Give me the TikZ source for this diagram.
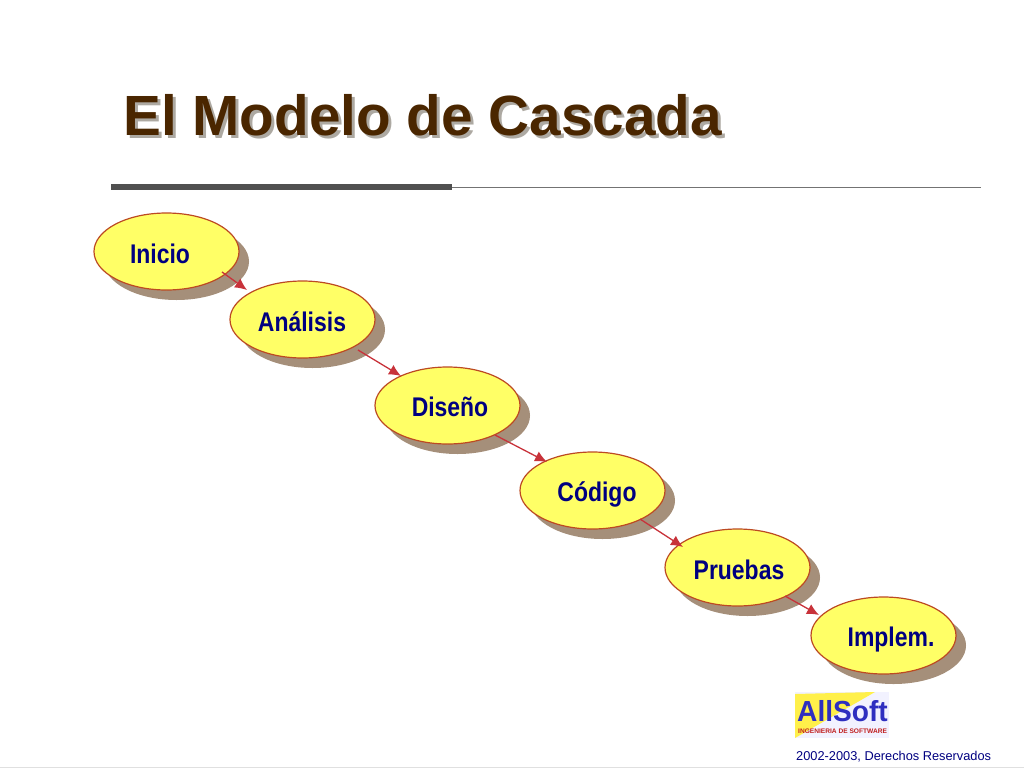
\documentclass[tikz,border=0pt]{standalone}
\usepackage{fontspec}
\setmainfont{Liberation Sans}
\newfontfamily\narrowfont[FakeStretch=0.85]{Liberation Sans}
\newfontfamily\logofont[FakeStretch=0.97]{Liberation Sans}
\usetikzlibrary{shapes.geometric,shadows,arrows.meta,calc}
\definecolor{tituloc}{HTML}{4A2600}
\definecolor{tituloshadow}{HTML}{ADA9A2}
\definecolor{sombra}{HTML}{A58F7A}
\definecolor{relleno}{HTML}{FFFF66}
\definecolor{borde}{HTML}{BC4A22}
\definecolor{flechac}{HTML}{C8323A}
\definecolor{azul}{HTML}{000080}
\definecolor{regla}{HTML}{505050}
\definecolor{logoy}{HTML}{FFF04A}
\definecolor{logob}{HTML}{2F2FC0}
\definecolor{logor}{HTML}{C02020}
\tikzset{
	fase/.style={ellipse,draw=borde,fill=relleno,line width=1.2pt,
		minimum width=145pt,minimum height=77pt,inner sep=0pt,
		drop shadow={shadow xshift=10pt,shadow yshift=-10pt,fill=sombra,opacity=1}},
	etiqueta/.style={text=azul,font=\narrowfont\bfseries\fontsize{27}{27}\selectfont,inner sep=0pt},
	flecha/.style={draw=flechac,line width=1.3pt,-{Latex[length=12pt,width=11pt]}}
}
\begin{document}
\begin{tikzpicture}[x=1pt,y=-1pt]
	\useasboundingbox (0,0) rectangle (1024,768);
	% title and its rule
	\node[anchor=base west,inner sep=0pt,text=tituloshadow,font=\bfseries\fontsize{56.7}{56.7}\selectfont] (tituloS) at (126,138.5) {El Modelo de Cascada};
	\node[anchor=base west,inner sep=0pt,text=tituloc,font=\bfseries\fontsize{56.7}{56.7}\selectfont] (titulo) at (123,135.5) {El Modelo de Cascada};
	\fill[regla] (111,184) rectangle (452,190);
	\draw[regla!80,line width=0.8pt] (452,187) -- (981,187);
	% the six phases
	\foreach \nombre/\x/\y/\dx/\dy/\texto in {
		inicio/166.5/251.5/-6.5/2.5/Inicio,
		analisis/302.5/319.5/-0.5/2.5/Análisis,
		diseno/447.5/405.5/2.5/1.5/Diseño,
		codigo/592.5/490.5/4.5/4/Código,
		pruebas/737.5/567.5/1.5/2/Pruebas,
		implem/883.5/635.5/7.5/4/Implem.}
	{
		\node[fase] (\nombre) at (\x,\y) {};
		\node[etiqueta] (\nombre T) at ($(\nombre)+(\dx,\dy)$) {\texto};
	}
	% arrows start on one ellipse and stop just short of the next
	\foreach \a/\ax/\ay/\b/\bx/\by in {
		inicio/55.5/20.5/analisis/-55.5/-29.5,
		analisis/55.5/30.5/diseno/-46.5/-29.5,
		diseno/47.5/29.5/codigo/-45.5/-28.5,
		codigo/47.5/28.5/pruebas/-54.5/-20.5,
		pruebas/47.5/28.5/implem/-64.5/-20.5}
	{
		\draw[flecha] ($(\a)+(\ax,\ay)$) -- ($(\b)+(\bx,\by)$);
	}
	% logo
	\fill[blue!5] (795,692) rectangle (889,738);
	\fill[logoy] (795,694) -- (875,692) -- (795,738) -- cycle;
	\node[anchor=base west,inner sep=0pt,text=logob,font=\logofont\bfseries\fontsize{29}{29}\selectfont] (logo) at (797,721) {AllSoft};
	\node[anchor=base west,inner sep=0pt,text=logor,font=\bfseries\fontsize{6.6}{6.6}\selectfont] (logoB) at (798,733) {INGENIERIA DE SOFTWARE};
	% footer
	\node[anchor=base west,inner sep=0pt,text=azul,font=\fontsize{12.8}{12.8}\selectfont] (pie) at (796,760) {2002-2003, Derechos Reservados};
	\draw[black!12,line width=1pt] (0,767.5) -- (1024,767.5);
\end{tikzpicture}
\end{document}
